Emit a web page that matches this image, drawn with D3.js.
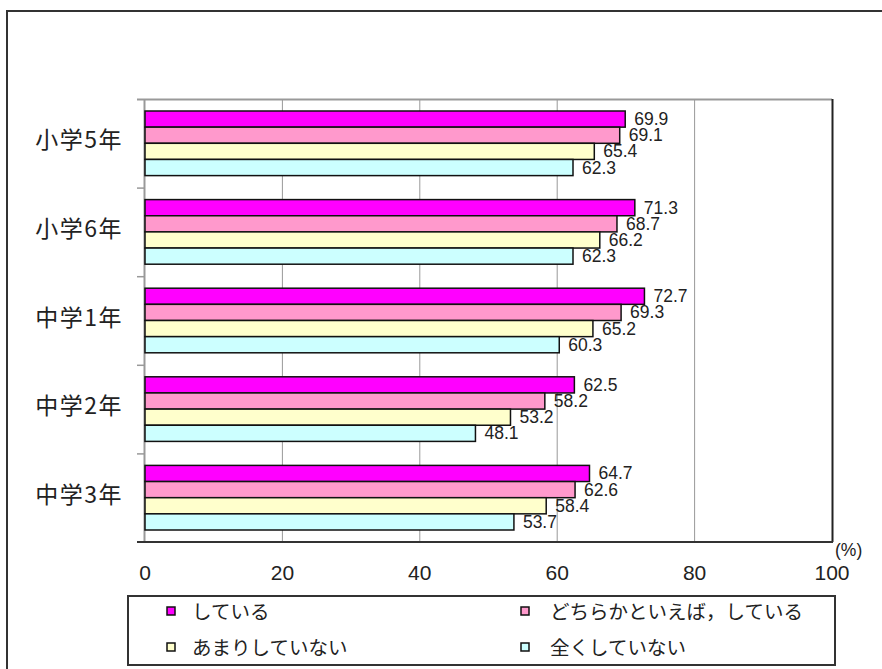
<!DOCTYPE html>
<meta charset="utf-8">
<head>
<title>学年別グラフ</title>
<style>
body { margin: 0; background: #fff; }
.cat { font: 23px "Noto Sans CJK JP", sans-serif; fill: #222; letter-spacing: 1.5px; }
.tick-label { font: 21px "Liberation Sans", Arial, sans-serif; fill: #222; }
.val { font: 17.5px "Liberation Sans", Arial, sans-serif; fill: #222; }
.legend-text { font: 19.5px "Noto Sans CJK JP", sans-serif; fill: #222; }
</style>
</head>
<body>
<script src="https://cdnjs.cloudflare.com/ajax/libs/d3/7.8.5/d3.min.js"></script>
<script>

    // Data
    var categories = ["小学5年", "小学6年", "中学1年", "中学2年", "中学3年"];
    var seriesNames = ["している", "どちらかといえば，している", "あまりしていない", "全くしていない"];
    var seriesColors = ["#ff00ff", "#ff99cc", "#ffffcc", "#ccffff"];
    var doing = [69.9, 71.3, 72.7, 62.5, 64.7];
    var ratherDoing = [69.1, 68.7, 69.3, 58.2, 62.6];
    var notMuch = [65.4, 66.2, 65.2, 53.2, 58.4];
    var notAtAll = [62.3, 62.3, 60.3, 48.1, 53.7];
    var xTicks = [0, 20, 40, 60, 80, 100];

    var series = [doing, ratherDoing, notMuch, notAtAll];

    var width = 882, height = 669,
        plot = {left: 145, right: 832, top: 99, bottom: 542};

    var svg = d3.select("body").append("svg")
        .attr("width", width)
        .attr("height", height);

    // Outer frame
    svg.append("rect")
        .attr("x", 7).attr("y", 11)
        .attr("width", 880).attr("height", 700)
        .style("fill", "none")
        .style("stroke", "#333")
        .style("stroke-width", 2);

    // Scales
    var x = d3.scaleLinear().domain([0, 100]).range([plot.left, plot.right]);
    var y = d3.scaleBand().domain(categories).range([plot.top, plot.bottom]);
    var ySub = d3.scaleBand().domain(d3.range(series.length))
        .range([12, y.bandwidth() - 12]);

    // Gridlines
    svg.selectAll(".grid")
        .data(xTicks.slice(1, -1))
        .enter().append("line")
        .attr("x1", function(d) { return x(d); })
        .attr("x2", function(d) { return x(d); })
        .attr("y1", plot.top)
        .attr("y2", plot.bottom)
        .style("stroke", "#999")
        .style("stroke-width", 1);

    // Top border + left axis (gray)
    svg.append("line")
        .attr("x1", plot.left - 8).attr("x2", plot.right)
        .attr("y1", plot.top + 0.5).attr("y2", plot.top + 0.5)
        .style("stroke", "#999").style("stroke-width", 2);
    svg.append("line")
        .attr("x1", plot.left - 0.5).attr("x2", plot.left - 0.5)
        .attr("y1", plot.top).attr("y2", plot.bottom)
        .style("stroke", "#999").style("stroke-width", 2);

    // Category ticks
    var bounds = categories.map(function(c) { return y(c); }).concat([plot.bottom]);
    svg.selectAll(".ctick")
        .data(bounds.slice(1, -1))
        .enter().append("line")
        .attr("x1", plot.left - 8).attr("x2", plot.left)
        .attr("y1", function(d) { return d + 0.5; })
        .attr("y2", function(d) { return d + 0.5; })
        .style("stroke", "#999").style("stroke-width", 1.5);

    // Right border + bottom axis (dark)
    svg.append("line")
        .attr("x1", plot.right + 0.5).attr("x2", plot.right + 0.5)
        .attr("y1", plot.top).attr("y2", plot.bottom)
        .style("stroke", "#222").style("stroke-width", 2);
    svg.append("line")
        .attr("x1", plot.left - 8).attr("x2", plot.right + 1)
        .attr("y1", plot.bottom).attr("y2", plot.bottom)
        .style("stroke", "#333").style("stroke-width", 2);

    // Bars
    series.forEach(function(vals, s) {
        svg.selectAll(".bar" + s)
            .data(vals)
            .enter().append("rect")
            .attr("x", plot.left)
            .attr("y", function(d, i) { return y(categories[i]) + ySub(s); })
            .attr("width", function(d) { return x(d) - plot.left; })
            .attr("height", ySub.bandwidth())
            .style("fill", seriesColors[s])
            .style("stroke", "#111")
            .style("stroke-width", 1.5);

        svg.selectAll(".val" + s)
            .data(vals)
            .enter().append("text")
            .attr("class", "val")
            .attr("x", function(d) { return x(d) + 9; })
            .attr("y", function(d, i) { return y(categories[i]) + ySub(s) + ySub.bandwidth() / 2 + 6; })
            .text(function(d) { return d.toFixed(1); });
    });

    // Category labels
    svg.selectAll(".cat")
        .data(categories)
        .enter().append("text")
        .attr("class", "cat")
        .attr("x", 123)
        .attr("y", function(d) { return y(d) + y.bandwidth() / 2 + 5; })
        .attr("text-anchor", "end")
        .text(function(d) { return d; });

    // X tick labels
    svg.selectAll(".tick-label")
        .data(xTicks)
        .enter().append("text")
        .attr("class", "tick-label")
        .attr("x", function(d) { return x(d); })
        .attr("y", 580)
        .attr("text-anchor", "middle")
        .text(function(d) { return d; });

    svg.append("text")
        .attr("class", "val")
        .attr("x", 835)
        .attr("y", 556)
        .text("(%)");

    // Legend
    svg.append("rect")
        .attr("x", 128).attr("y", 596)
        .attr("width", 707).attr("height", 69)
        .style("fill", "#fff")
        .style("stroke", "#333")
        .style("stroke-width", 2);

    var legendPos = [[167, 611], [521, 611], [167, 647], [521, 647]];
    seriesNames.forEach(function(name, i) {
        var p = legendPos[i];
        svg.append("rect")
            .attr("x", p[0]).attr("y", p[1] - 4)
            .attr("width", 8).attr("height", 8)
            .style("fill", seriesColors[i])
            .style("stroke", "#111")
            .style("stroke-width", 1.5);
        svg.append("text")
            .attr("class", "legend-text")
            .attr("x", p[0] + (i % 2 === 0 ? 25 : 29))
            .attr("y", p[1] + 8)
            .text(name);
    });

</script>
</body>
